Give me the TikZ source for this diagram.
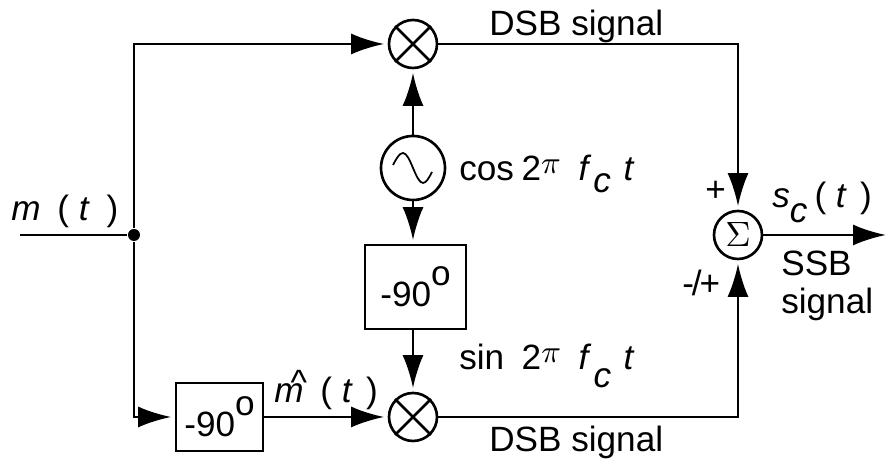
\documentclass[tikz,border=0pt]{standalone}
\usepackage{fontspec}
\setmainfont{Liberation Sans}
\usepackage{tikz}
\usetikzlibrary{arrows.meta,positioning}
\newcommand{\phasetext}{-90\raisebox{.21cm}{o}}
\newcommand{\carrier}[1]{\raisebox{.07cm}{\fontsize{9}{9}\selectfont$\pi$}\hspace{5pt}\textit{f}\hspace{0.6pt}\raisebox{-#1}{\textit{c}}\hspace{3.6pt}\textit{t}}
\begin{document}
\begin{tikzpicture}[line width=0.75pt,
  comment/.style={inner sep=0pt, anchor=base west, font=\fontsize{10}{11}\selectfont},
  mixer/.style={circle, draw, inner sep=0pt, minimum size=0.48cm},
  phase/.style={rectangle, draw, inner sep=0pt, font=\fontsize{10}{11}\selectfont},
  signal/.style={-{Latex[length=0.33cm,width=0.21cm]}, shorten >=1pt}]
\useasboundingbox (0,0) rectangle (8.86,4.66);

\coordinate (in) at (0.2,2.31);
\coordinate (out) at (8.86,2.31);
\node [circle, fill, inner sep=0pt, minimum size=0.12cm] (junc) at (1.34,2.31) {};

\node [mixer] (mixtop) at (4.13,4.22) {};
\draw (mixtop.45) -- (mixtop.225);
\draw (mixtop.135) -- (mixtop.315);
\node [mixer] (mixbot) at (4.13,0.49) {};
\draw (mixbot.45) -- (mixbot.225);
\draw (mixbot.135) -- (mixbot.315);

\node [circle, draw, inner sep=0pt, minimum size=0.64cm] (osc) at (4.13,2.98) {};
\draw [line width=0.5pt] ([xshift=-0.2cm,yshift=0.03cm]osc.center) sin +(0.1,0.12) cos +(0.1,-0.15) sin +(0.1,-0.15) cos +(0.09,0.11);

\node [phase, minimum width=1.01cm, minimum height=0.84cm] (shiftc) at (4.155,1.79) {\phasetext};
\node [phase, minimum width=0.87cm, minimum height=0.68cm] (shiftm) at (2.195,0.49) {\phasetext};

\node [circle, draw, inner sep=0pt, minimum size=0.48cm] (sum) at (7.38,2.31) {$\Sigma$};

\draw (in) -- (junc);
\draw [signal] (junc) |- (mixtop);
\draw [signal] (junc) |- (shiftm);
\draw [signal] (shiftm) -- (mixbot);
\draw [signal] (osc) -- (mixtop);
\draw [signal] (osc) -- (osc |- shiftc.north);
\draw [signal] (mixbot |- shiftc.south) -- (mixbot);
\draw [signal] (mixtop) -| (sum);
\draw [signal] (mixbot) -| (sum);
\draw [signal, shorten >=0pt] (sum) -- (out);

\node [comment] (dsbtop) at (4.88,4.30) {DSB signal};
\node [comment] (dsbbot) at (4.88,0.14) {DSB signal};
\node [comment] (coslabel) at (4.58,2.85) {cos\hspace{-0.6pt} 2\carrier{.12cm}};
\node [comment] (sinlabel) at (4.58,0.96) {sin \hspace{2.2pt}2\carrier{.18cm}};
\node [comment] (mlabel) at (0.10,2.45) {\textit{m} \hspace{2pt}( \textit{t} \hspace{2pt})};
\node [comment] (mhatlabel) at (2.73,0.63) {\textit{m}\hspace{1pt}\llap{\raisebox{.08cm}{\^{}}} \hspace{1pt}( \textit{t} \hspace{1pt})};
\node [comment] (plus) at (7.04,2.64) {+};
\node [comment] (minus) at (6.81,1.70) {-\hspace{-.6pt}/\hspace{-.6pt}+};
\node [comment] (sclabel) at (7.71,2.58) {\textit{s}\raisebox{-.15cm}{\textit{c}}\hspace{2pt}( \textit{t} \hspace{1pt})};
\node [comment, align=left] (ssb) at (7.80,1.52) {SSB\\signal};
\end{tikzpicture}
\end{document}
